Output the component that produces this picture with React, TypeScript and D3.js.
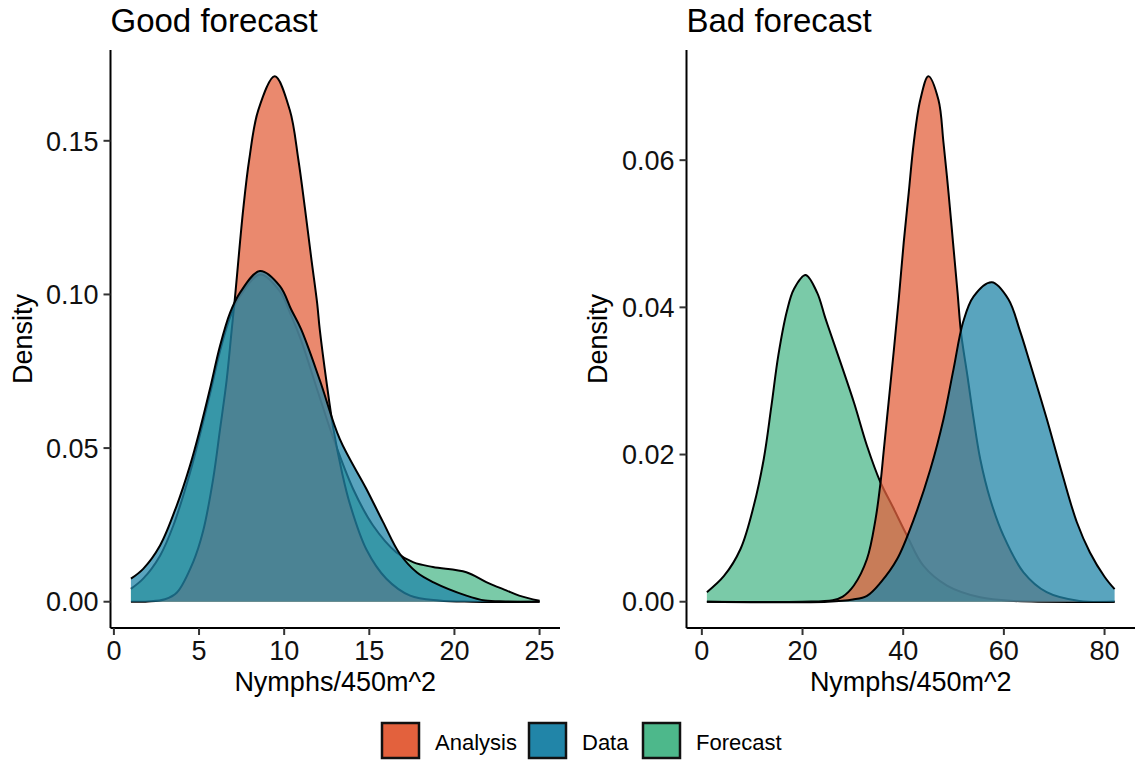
import React from "react";
import * as d3 from "d3";

type Pt = [number, number];

// ---------- data ----------
const seriesNames = ["Analysis", "Data", "Forecast"];
const seriesColors = ["#E3613D", "#2185A8", "#4DB88B"];
const drawOrder = ["Forecast", "Analysis", "Data"];

const goodAnalysis: Pt[] = [
  [1, 0], [2, 0.0001], [3, 0.0008], [3.7, 0.003], [4.66, 0.013], [5.24, 0.023], [5.83, 0.04],
  [6.23, 0.056], [6.62, 0.072], [6.91, 0.088], [7.11, 0.099], [7.6, 0.128], [7.95, 0.144],
  [8.48, 0.16], [9.45, 0.171], [10.33, 0.16], [10.83, 0.144], [11.22, 0.128], [11.61, 0.111],
  [11.94, 0.097], [12.09, 0.0886], [12.5, 0.071], [12.9, 0.056], [13.4, 0.042], [13.85, 0.032],
  [14.83, 0.017], [16.0, 0.0075], [17.4, 0.002], [19.1, 0.0004], [21, 0], [25, 0],
];
const goodData: Pt[] = [
  [1, 0.0075], [1.72, 0.0107], [2.71, 0.0183], [3.69, 0.0313], [4.47, 0.0443], [5.06, 0.0562],
  [5.64, 0.0692], [6.23, 0.0832], [6.82, 0.094], [7.41, 0.1006], [8.58, 0.1076], [9.75, 0.1027],
  [10.42, 0.095], [11.0, 0.0886], [12.1, 0.072], [13.27, 0.0529], [14.83, 0.0367], [15.81, 0.0259],
  [16.79, 0.0156], [17.8, 0.0095], [18.74, 0.0064], [20.7, 0.002], [21.8, 0.0004], [23, 0.0001], [25, 0],
];
const goodForecast: Pt[] = [
  [1, 0.0042], [1.72, 0.0075], [2.71, 0.015], [3.49, 0.0248], [4.47, 0.042], [5.06, 0.0545],
  [5.64, 0.0675], [6.23, 0.0815], [6.82, 0.0925], [7.41, 0.0995], [8.6, 0.1065], [9.75, 0.101],
  [10.42, 0.093], [11.0, 0.085], [12.0, 0.068], [12.9, 0.053], [14.05, 0.0367], [15.22, 0.0248],
  [16.58, 0.0161], [17.6, 0.0128], [18.74, 0.0113], [20.7, 0.0096], [21.87, 0.0064],
  [23.04, 0.0037], [23.8, 0.002], [25, 0.0003],
];

const badAnalysis: Pt[] = [
  [1, 0], [20, 0], [26, 0.0002], [28, 0.0007], [30.2, 0.0022], [32.8, 0.0058], [34.5, 0.0112],
  [35.5, 0.0162], [36.1, 0.0203], [37.1, 0.0271], [38.1, 0.0339], [39.1, 0.041], [40.1, 0.0488],
  [41.1, 0.0556], [42.1, 0.0624], [43.4, 0.0682], [45.0, 0.0714], [47.0, 0.0682], [48.0, 0.0624],
  [49.0, 0.0556], [49.9, 0.0488], [50.8, 0.042], [51.5, 0.0365], [52.8, 0.0305], [54.0, 0.0248],
  [55.3, 0.0194], [57.3, 0.0139], [59.9, 0.009], [63.9, 0.004], [68.5, 0.0013], [75, 0.0001], [82, 0],
];
const badData: Pt[] = [
  [1, 0], [25, 0], [30, 0.0003], [32.8, 0.0008], [35.5, 0.0026], [38.8, 0.0058], [42.1, 0.0112],
  [45.4, 0.018], [48.0, 0.0248], [50.0, 0.0316], [51.9, 0.038], [54.0, 0.0415], [57.6, 0.0434],
  [60.9, 0.0411], [63.2, 0.0368], [65.2, 0.0324], [68.5, 0.0249], [71.5, 0.0176], [74.5, 0.0108],
  [77.1, 0.0067], [80, 0.0034], [82, 0.0017],
];
const badForecast: Pt[] = [
  [1, 0.0013], [4.4, 0.0035], [7.7, 0.0072], [10.3, 0.013], [12.3, 0.0194], [13.8, 0.0265],
  [15.2, 0.0335], [16.9, 0.0395], [18.3, 0.0425], [20.6, 0.0444], [22.9, 0.042], [24.5, 0.0386],
  [26.4, 0.0348], [30.2, 0.0271], [32.8, 0.0212], [35.5, 0.0162], [38.0, 0.0128], [40.75, 0.009],
  [44.0, 0.0049], [48.7, 0.0022], [55.3, 0.0006], [62, 0.0001], [82, 0],
];

const goodTicksX = [0, 5, 10, 15, 20, 25];
const goodTicksY = [0, 0.05, 0.1, 0.15];
const badTicksX = [0, 20, 40, 60, 80];
const badTicksY = [0, 0.02, 0.04, 0.06];

const panelTitles = ["Good forecast", "Bad forecast"];
const xTitle = "Nymphs/450m^2";
const yTitle = "Density";

// ---------- drawing ----------
const FONT = "'Liberation Sans', Arial, Helvetica, sans-serif";
const W = 1139;
const H = 761;
const ALPHA = 0.75;

type Series = { name: string; pts: Pt[] };

function colorOf(name: string) {
  return seriesColors[seriesNames.indexOf(name)];
}

function Panel(props: {
  left: number; right: number; top: number; bottom: number;
  title: string; series: Series[]; xTicks: number[]; yTicks: number[]; yTitleX: number;
}) {
  const { left, right, top, bottom, title, series, xTicks, yTicks, yTitleX } = props;
  const all = series.flatMap((s) => s.pts);
  const [xmin, xmax] = d3.extent(all, (d) => d[0]) as [number, number];
  const ymax = d3.max(all, (d) => d[1]) as number;
  const xPad = (xmax - xmin) * 0.05;
  const x = d3.scaleLinear().domain([xmin - xPad, xmax + xPad]).range([left, right]);
  const y = d3.scaleLinear().domain([-ymax * 0.05, ymax * 1.05]).range([bottom, top]);
  const curve = d3.curveCatmullRom.alpha(0.5);
  const area = d3.area<Pt>().x((d) => x(d[0])).y0(y(0)).y1((d) => y(Math.max(0, d[1]))).curve(curve);
  const line = d3.line<Pt>().x((d) => x(d[0])).y((d) => y(d[1])).curve(curve);
  const fmtY = d3.format(".2f");
  const ordered = drawOrder.map((n) => series.find((s) => s.name === n)!);
  const tickLen = 7;
  return (
    <g>
      {ordered.map((s) => (
        <g key={s.name}>
          <path d={area(s.pts) || ""} fill={colorOf(s.name)} fillOpacity={ALPHA} stroke="none" />
          <path d={line(s.pts) || ""} fill="none" stroke="#000" strokeWidth={2} strokeLinejoin="round" />
        </g>
      ))}
      {/* axes */}
      <line x1={left} x2={left} y1={top} y2={bottom} stroke="#000" strokeWidth={2} />
      <line x1={left} x2={right} y1={bottom} y2={bottom} stroke="#000" strokeWidth={2} />
      {yTicks.map((t) => (
        <g key={"y" + t}>
          <line x1={left - tickLen} x2={left} y1={y(t)} y2={y(t)} stroke="#333" strokeWidth={2} />
          <text x={left - 12} y={y(t)} dy="0.36em" textAnchor="end" fontSize={27} fill="#111" fontFamily={FONT}>
            {fmtY(t)}
          </text>
        </g>
      ))}
      {xTicks.map((t) => (
        <g key={"x" + t}>
          <line x1={x(t)} x2={x(t)} y1={bottom} y2={bottom + tickLen} stroke="#333" strokeWidth={2} />
          <text x={x(t)} y={bottom + 32} textAnchor="middle" fontSize={27} fill="#111" fontFamily={FONT}>
            {t}
          </text>
        </g>
      ))}
      <text x={(left + right) / 2} y={691} textAnchor="middle" fontSize={27} fill="#000" fontFamily={FONT}>
        {xTitle}
      </text>
      <text
        transform={`translate(${yTitleX},${(top + bottom) / 2}) rotate(-90)`}
        dy="0.35em"
        textAnchor="middle"
        fontSize={27}
        fill="#000"
        fontFamily={FONT}
      >
        {yTitle}
      </text>
      <text x={left} y={32} fontSize={33} fill="#000" fontFamily={FONT}>
        {title}
      </text>
    </g>
  );
}

const legendKeyX = [382, 529, 643];

export default function App() {
  const good: Series[] = [
    { name: "Analysis", pts: goodAnalysis },
    { name: "Data", pts: goodData },
    { name: "Forecast", pts: goodForecast },
  ];
  const bad: Series[] = [
    { name: "Analysis", pts: badAnalysis },
    { name: "Data", pts: badData },
    { name: "Forecast", pts: badForecast },
  ];
  return (
    <svg width={W} height={H} style={{ position: "absolute", left: 0, top: 0, background: "#fff" }}>
      <rect x={0} y={0} width={W} height={H} fill="#fff" />
      <Panel left={110.5} right={560} top={50} bottom={628} title={panelTitles[0]} series={good}
        xTicks={goodTicksX} yTicks={goodTicksY} yTitleX={23} />
      <Panel left={686.5} right={1135} top={50} bottom={628} title={panelTitles[1]} series={bad}
        xTicks={badTicksX} yTicks={badTicksY} yTitleX={598} />
      {seriesNames.map((n, i) => (
        <g key={n}>
          <rect x={legendKeyX[i]} y={723} width={37} height={35} fill={seriesColors[i]} stroke="#111" strokeWidth={2.5} />
          <text x={legendKeyX[i] + 53} y={750} fontSize={22} fill="#000" fontFamily={FONT}>
            {n}
          </text>
        </g>
      ))}
    </svg>
  );
}
